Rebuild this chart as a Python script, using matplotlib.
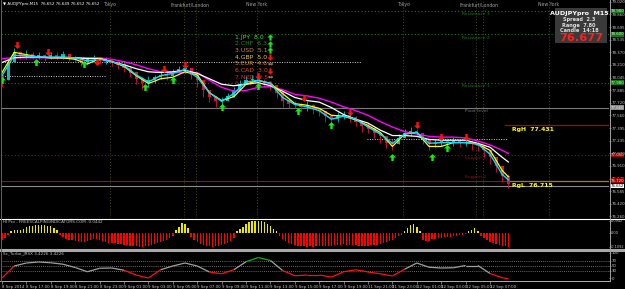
import numpy as np
import matplotlib
matplotlib.use("Agg")
import matplotlib.pyplot as plt
from matplotlib.path import Path
from matplotlib.patches import Rectangle
from matplotlib.collections import LineCollection

# ---------------- data ----------------
# candles, one every 2 bars (M15 bar index)
candle_x = np.arange(0, 167, 2)
first_open = 78.08
closes = [78.01, 78.24, 78.37, 78.33, 78.35, 78.31, 78.33, 78.30, 78.33, 78.31,
          78.34, 78.30, 78.29, 78.25, 78.28, 78.30, 78.26, 78.28, 78.24, 78.21,
          78.17, 78.11, 78.03, 77.97, 78.01, 78.05, 78.08, 78.07, 78.11, 78.15,
          78.16, 78.08, 78.01, 77.88, 77.80, 77.74, 77.75, 77.80, 77.88, 77.96,
          78.01, 78.02, 77.99, 77.98, 77.94, 77.85, 77.75, 77.71, 77.70, 77.67,
          77.69, 77.64, 77.61, 77.55, 77.51, 77.55, 77.56, 77.53, 77.48, 77.42,
          77.39, 77.33, 77.29, 77.21, 77.19, 77.27, 77.33, 77.35, 77.33, 77.25,
          77.19, 77.20, 77.23, 77.21, 77.23, 77.20, 77.21, 77.19, 77.16, 77.11,
          77.02, 76.91, 76.78, 76.68]
highs = [78.11, 78.29, 78.42, 78.39, 78.40, 78.37, 78.38, 78.35, 78.38, 78.37,
         78.39, 78.35, 78.33, 78.30, 78.31, 78.34, 78.31, 78.31, 78.29, 78.26,
         78.24, 78.19, 78.11, 78.05, 78.06, 78.08, 78.14, 78.14, 78.15, 78.20,
         78.21, 78.16, 78.07, 77.96, 77.88, 77.80, 77.80, 77.85, 77.93, 78.01,
         78.06, 78.08, 78.05, 78.03, 77.99, 77.93, 77.81, 77.76, 77.75, 77.72,
         77.74, 77.70, 77.66, 77.61, 77.57, 77.60, 77.61, 77.60, 77.55, 77.48,
         77.46, 77.39, 77.35, 77.29, 77.25, 77.32, 77.38, 77.41, 77.38, 77.32,
         77.25, 77.25, 77.28, 77.27, 77.28, 77.25, 77.27, 77.24, 77.23, 77.17,
         77.10, 77.00, 76.88, 76.80]
lows = [77.93, 78.03, 78.26, 78.29, 78.29, 78.28, 78.29, 78.26, 78.29, 78.28,
        78.29, 78.26, 78.24, 78.20, 78.22, 78.25, 78.22, 78.22, 78.19, 78.16,
        78.12, 78.05, 77.96, 77.90, 77.93, 77.97, 78.03, 78.02, 78.06, 78.10,
        78.11, 78.03, 77.93, 77.80, 77.73, 77.67, 77.69, 77.75, 77.81, 77.90,
        77.96, 77.97, 77.94, 77.93, 77.88, 77.78, 77.67, 77.65, 77.65, 77.62,
        77.62, 77.58, 77.55, 77.48, 77.44, 77.48, 77.51, 77.47, 77.42, 77.35,
        77.33, 77.27, 77.21, 77.14, 77.11, 77.19, 77.27, 77.30, 77.28, 77.19,
        77.12, 77.15, 77.17, 77.16, 77.17, 77.15, 77.16, 77.12, 77.10, 77.03,
        76.94, 76.83, 76.70, 76.63]

# moving averages sampled every 4 bars
ma_x = list(range(0, 165, 4)) + [166]
ma_cyan = [78.07, 78.33, 78.33, 78.31, 78.31, 78.31, 78.30, 78.26, 78.28, 78.25,
           78.20, 78.08, 77.99, 78.07, 78.10, 78.15, 78.05, 77.85, 77.74, 77.84,
           77.99, 78.01, 77.97, 77.79, 77.70, 77.67, 77.62, 77.51, 77.55, 77.51,
           77.41, 77.32, 77.20, 77.32, 77.34, 77.20, 77.21, 77.21, 77.21, 77.19,
           77.06, 76.80, 76.73]
ma_yellow = [78.11, 78.37, 78.34, 78.31, 78.30, 78.30, 78.28, 78.22, 78.29, 78.25,
             78.19, 78.07, 77.97, 78.03, 78.05, 78.12, 78.08, 77.85, 77.75, 77.80,
             77.96, 78.01, 77.97, 77.84, 77.71, 77.69, 77.65, 77.56, 77.55, 77.50,
             77.43, 77.34, 77.16, 77.32, 77.34, 77.16, 77.16, 77.21, 77.21, 77.19,
             77.11, 76.85, 76.77]
ma_white = [78.24, 78.30, 78.31, 78.31, 78.30, 78.30, 78.30, 78.29, 78.29, 78.25,
            78.21, 78.16, 78.12, 78.11, 78.12, 78.14, 78.10, 78.03, 77.96, 77.94,
            77.96, 77.98, 77.94, 77.87, 77.79, 77.75, 77.73, 77.66, 77.57, 77.51,
            77.46, 77.37, 77.30, 77.30, 77.29, 77.25, 77.24, 77.24, 77.24, 77.20,
            77.15, 77.02, 76.96]
ma_magenta = [78.29, 78.30, 78.30, 78.30, 78.30, 78.30, 78.30, 78.30, 78.30, 78.28,
              78.25, 78.21, 78.16, 78.12, 78.11, 78.11, 78.11, 78.01, 77.92, 77.87,
              77.88, 77.92, 77.93, 77.89, 77.83, 77.81, 77.78, 77.73, 77.67, 77.62,
              77.56, 77.48, 77.41, 77.35, 77.32, 77.29, 77.28, 77.28, 77.27, 77.23,
              77.18, 77.11, 77.07]

# signal arrows
buy_x = [0, 11, 27, 47, 56, 72, 84, 97, 108, 128, 141, 146]
buy_y = [78.01, 78.24, 78.22, 77.92, 78.01, 77.67, 77.94, 77.62, 77.43, 77.02, 77.03, 77.14]
sell_x = [5, 15, 31, 53, 60, 84, 99, 114, 136, 144, 152]
sell_y = [78.46, 78.38, 78.24, 78.16, 78.21, 78.07, 77.78, 77.60, 77.43, 77.28, 77.28]

# pivot levels
level_names = ["Resistance 3", "Resistance 2", "Resistance 1", "Pivot level", "Support 1", "Support 2"]
level_prices = [78.90, 78.60, 77.98, 77.66, 77.05, 76.72]
rg_high = 77.431
rg_low = 76.715
bid = 76.652
ask = 76.677

# dotted day-range lines: price, start bar, end bar
dot_prices = [78.24, 78.07, 77.25]
dot_start = [0, 0, 119.7]
dot_end = [117.7, 33.8, 165.6]

# sessions
session_lines = [35.4, 59.7, 63.6, 83.6, 131.5, 155.4, 157.7, 179.3]
session_names = ["Tokyo", "Frankfurt/London", "New York", "Tokyo", "Frankfurt/London", "New York"]
session_pos = [35.4, 61.6, 83.6, 131.5, 156.5, 179.3]

# currency strength list
strength_labels = ["1.JPY  8.0", "2.CHF  6.3", "3.USD  5.1", "4.GBP  5.0",
                   "5.EUR  4.6", "6.CAD  3.0", "7.NZD  2.5", "8.AUD  1.1"]
strength_dirs = ["up", "up", "up", "down", "flat", "down", "flat", "down"]

# histogram indicator, one value per bar
hist_vals = [-0.055, -0.039, -0.016, 0.016, 0.023, 0.023, 0.023, 0.031, 0.047, 0.055,
             0.055, 0.062, 0.062, 0.062, 0.062, 0.055, 0.055, 0.039, 0.023, -0.016,
             -0.031, -0.047, -0.055, -0.055, -0.062, -0.062, -0.070, -0.070, -0.062, -0.055,
             -0.047, -0.047, -0.055, -0.062, -0.070, -0.078, -0.078, -0.078, -0.086, -0.086,
             -0.094, -0.094, -0.101, -0.101, -0.101, -0.109, -0.109, -0.101, -0.101, -0.094,
             -0.086, -0.078, -0.070, -0.062, -0.055, -0.039, -0.023, 0.023, 0.047, 0.078,
             0.070, 0.039, -0.031, -0.055, -0.070, -0.086, -0.094, -0.101, -0.101, -0.109,
             -0.101, -0.101, -0.094, -0.086, -0.078, -0.062, -0.039, 0.016, 0.031, 0.047,
             0.070, 0.086, 0.094, 0.094, 0.094, 0.094, 0.086, 0.070, 0.055, 0.031,
             0.016, -0.023, -0.047, -0.062, -0.078, -0.086, -0.094, -0.101, -0.101, -0.101,
             -0.109, -0.101, -0.109, -0.101, -0.101, -0.101, -0.101, -0.101, -0.101, -0.094,
             -0.094, -0.094, -0.086, -0.094, -0.094, -0.094, -0.094, -0.101, -0.101, -0.101,
             -0.101, -0.094, -0.094, -0.094, -0.086, -0.078, -0.070, -0.062, -0.055, -0.039,
             -0.023, -0.016, 0.016, 0.039, 0.062, 0.070, 0.047, 0.016, -0.055, -0.062,
             -0.062, -0.047, -0.047, -0.039, -0.039, -0.031, -0.031, -0.031, -0.023, -0.023,
             -0.016, -0.016, -0.008, 0.016, 0.023, 0.039, 0.016, -0.023, -0.039, -0.055,
             -0.070, -0.078, -0.086, -0.094, -0.101, -0.101, -0.109]

# oscillator, sampled every 4 bars
osc_vals = [0, 48, 60, 64, 61, 55, 42, 25, 39, 40,
            31, 12, 0, 33, 48, 60, 48, 24, 17, 33,
            65, 82, 70, 30, 9, 12, 12, 4, 25, 33,
            24, 17, 8, 35, 60, 43, 40, 41, 50, 50,
            18, 1, -3]

# axis labels
price_ticks = [76.260, 76.420, 76.585, 76.745, 76.910, 77.070, 77.235, 77.395, 77.560,
               77.720, 77.885, 78.045, 78.210, 78.370, 78.535, 78.695, 78.860, 79.020]
hist_ticks = [0.0942, 0.0, -0.1092]
hist_tick_labels = ["0.0942", "0.00", "-0.1092"]
osc_ticks = [100, 70, 50, 30, 0]
time_ticks = list(range(0, 161, 8))
time_labels = ["8 Sep 2014", "8 Sep 17:00", "8 Sep 19:00", "8 Sep 21:00", "8 Sep 23:00",
               "9 Sep 01:00", "9 Sep 03:00", "9 Sep 05:00", "9 Sep 07:00", "9 Sep 09:00",
               "9 Sep 11:00", "9 Sep 13:00", "9 Sep 15:00", "9 Sep 17:00", "9 Sep 19:00",
               "11 Sep 21:00", "11 Sep 23:00", "12 Sep 01:00", "12 Sep 03:00",
               "12 Sep 05:00", "12 Sep 07:00"]

# ---------------- drawing ----------------
plt.rcParams['font.family'] = ['DejaVu Sans']
W, H = 625, 289
fig = plt.figure(figsize=(W / 100, H / 100), dpi=100, facecolor='black')

def px_axes(top, bottom):
    return fig.add_axes([1 / W, 1 - bottom / H, 608 / W, (bottom - top) / H])

ax = px_axes(1, 218)
axh = px_axes(219, 248)
axo = px_axes(251.5, 281)

lab_color = '#c8c8c8'
axis_fs = 2.8
for a in (ax, axh, axo):
    a.set_facecolor('black')
    a.set_xlim(-0.33, 199.0)
    for s in a.spines.values():
        s.set_visible(False)
    a.yaxis.tick_right()
    a.tick_params(axis='y', labelsize=axis_fs, labelcolor=lab_color, color='#a0a0a0',
                  length=1.2, width=0.5, pad=0.6)
    a.tick_params(axis='x', length=0)
    a.set_xticks([])

# ---- main price panel ----
ax.set_ylim(76.24, 79.03)
ax.set_yticks(price_ticks, [f"{v:.3f}" for v in price_ticks])

for x in session_lines:
    ax.axvline(x, color='#4c4c12', lw=0.7, ls=(0, (1, 2)), zorder=1)
for name, x in zip(session_names, session_pos):
    ax.text(x, 0.982, name, transform=ax.get_xaxis_transform(), ha='center', va='center',
            fontsize=3.3, color='#a0a0a0')

lvl_colors = ['#1e7a1e', '#1e7a1e', '#1e7a1e', '#7a7a7a', '#9a1010', '#9a1010']
lvl_styles = [(0, (1, 2)), (0, (1, 2)), (0, (1, 2)), '-', (0, (1, 2)), '-']
lvl_box = ['#0d7a0d', '#0d7a0d', '#0d7a0d', '#8a8a8a', '#a00000', '#a00000']
for name, p, c, s, b in zip(level_names, level_prices, lvl_colors, lvl_styles, lvl_box):
    ax.axhline(p, color=c, lw=0.8, ls=s, zorder=1)
    off = 1.2 if name == "Support 2" else -1.0
    ax.annotate(name, (155.4, p), xytext=(0, off), textcoords='offset points',
                ha='center', va='bottom' if off > 0 else 'top', fontsize=3.2, color=c)
    ax.text(1.002, p, f"{p:.3f}", transform=ax.get_yaxis_transform(), ha='left', va='center',
            fontsize=axis_fs, color='#e8e8e8', clip_on=False,
            bbox=dict(boxstyle='square,pad=0.1', fc=b, ec='none'), zorder=8)

for p, x0, x1 in zip(dot_prices, dot_start, dot_end):
    ax.plot([x0, x1], [p, p], color='#d0d0d0', lw=0.7, ls=(0, (1, 1.5)), zorder=1)

ax.axhline(bid, color='#8c8c8c', lw=0.8, zorder=1)
ax.text(1.002, bid, f"{bid:.3f}", transform=ax.get_yaxis_transform(), ha='left', va='center',
        fontsize=axis_fs, color='black', clip_on=False,
        bbox=dict(boxstyle='square,pad=0.1', fc='white', ec='none'), zorder=9)

# RgH / RgL
ax.plot([165, 199], [rg_high, rg_high], color='#c00000', lw=0.9, zorder=2)
ax.plot([165.6, 199], [rg_low, rg_low], color='#8a8a10', lw=0.9, zorder=2)
ax.annotate(f"RgH  {rg_high:.3f}", (167.2, rg_high), xytext=(0, -1.2), textcoords='offset points',
            ha='left', va='top', fontsize=4.4, color='#ffff00', fontweight='bold')
ax.annotate(f"RgL  {rg_low:.3f}", (167.2, rg_low), xytext=(0, -1.2), textcoords='offset points',
            ha='left', va='top', fontsize=4.4, color='#ffff00', fontweight='bold')

# currency strength list (behind price)
str_colors = ['#3cdc3c', '#2a8a2a', '#c8885a', '#e6c832', '#e88a1a', '#e8501e', '#f02020', '#b01010']
arrow_up = Path([(0, 1), (-1, 0), (-0.35, 0), (-0.35, -1), (0.35, -1), (0.35, 0), (1, 0), (0, 1)], closed=True)
arrow_dn = Path([(0, -1), (-1, 0), (-0.35, 0), (-0.35, 1), (0.35, 1), (0.35, 0), (1, 0), (0, -1)], closed=True)
for k, (lab, d, c) in enumerate(zip(strength_labels, strength_dirs, str_colors)):
    yf = 1 - (37 + 6.7 * k - 1) / 217
    ax.text(0.385, yf, lab, transform=ax.transAxes, ha='left', va='center', fontsize=4.4,
            color=c, zorder=1.5)
    if d == 'flat':
        ax.text(0.443, yf, "\u21d4", transform=ax.transAxes, ha='center', va='center',
                fontsize=4.4, color='#d2c08c', zorder=1.5)
    else:
        ax.plot([0.443], [yf], transform=ax.transAxes, ls='none',
                marker=arrow_up if d == 'up' else arrow_dn, ms=4.5, mew=0,
                color='#20e020' if d == 'up' else '#ff1010', zorder=1.5)

# candles
closes_a = np.array(closes)
opens_a = np.r_[first_open, closes_a[:-1]]
cols = np.where(closes_a >= opens_a, '#18b4b4', '#e0103c')
ax.vlines(candle_x, np.minimum(lows, np.minimum(opens_a, closes_a)),
          np.maximum(highs, np.maximum(opens_a, closes_a)), colors=cols, lw=0.6, zorder=3)
ax.bar(candle_x, np.abs(closes_a - opens_a) + 0.004, bottom=np.minimum(opens_a, closes_a),
       width=1.0, color=cols, zorder=3)

# moving averages
ax.plot(ma_x, ma_magenta, color='#ff00ff', lw=1.0, zorder=4)
ax.plot(ma_x, ma_white, color='#ffffff', lw=0.9, zorder=4)
ax.plot(ma_x, ma_yellow, color='#ffff00', lw=0.9, zorder=5)
ax.plot(ma_x, ma_cyan, color='#00e5ff', lw=1.0, zorder=5)

# signals
ax.plot(buy_x, buy_y, ls='none', marker=arrow_up, ms=5, mew=0, color='#10f010', zorder=6)
ax.plot(sell_x, sell_y, ls='none', marker=arrow_dn, ms=5, mew=0, color='#ff1010', zorder=6)

# title
ax.text(0.004, 0.986, "\u25bc AUDJPYpro,M15  76.652 76.649 76.652 76.652", transform=ax.transAxes,
        ha='left', va='center', fontsize=2.9, color='white')

# info box
ax.add_patch(Rectangle((554 / 608, 1 - 42 / 217), 52 / 608, 35 / 217, transform=ax.transAxes,
                       fc='#3a3a3a', ec='none', zorder=7))
ax.text(578 / 608, 1 - 12 / 217, "AUDJPYpro  M15", transform=ax.transAxes, ha='center', va='center',
        fontsize=4.6, color='white', fontweight='bold', zorder=8)
for k, t in enumerate(["Spread  2.3", "Range  7.80", "Candle  14:18"]):
    ax.text(578 / 608, 1 - (18.5 + 5.5 * k) / 217, t, transform=ax.transAxes, ha='center',
            va='center', fontsize=3.6, color='#e0e0e0', fontweight='bold', zorder=8)
ax.text(580 / 608, 1 - 37 / 217, f"{ask:.3f}", transform=ax.transAxes, ha='center', va='center',
        fontsize=8.2, color='#ff2020', fontweight='bold', zorder=8)

# ---- histogram panel ----
axh.set_ylim(-0.117, 0.109)
axh.set_yticks(hist_ticks, hist_tick_labels)
axh.tick_params(axis='y', labelsize=2.5, pad=0.4)
hv = np.array(hist_vals)
axh.bar(np.arange(len(hv)), hv, width=0.45, color=np.where(hv > 0, '#e8e800', '#ff0000'))
axh.text(0.004, 0.88, "HI Pro - FREESCALPINGINDICATORS.COM -0.0442", transform=axh.transAxes,
         ha='left', va='center', fontsize=3.0, color='#c0c0c0')

# ---- oscillator panel ----
axo.set_ylim(-12, 106)
axo.set_yticks(osc_ticks, [str(v) for v in osc_ticks])
for lv in (70, 50, 30):
    axo.axhline(lv, color='#8a8a8a', lw=0.6, ls=(0, (1, 1.5)))
pts = np.column_stack([ma_x, osc_vals])
segs = np.stack([pts[:-1], pts[1:]], axis=1)
mids = (np.array(osc_vals[:-1]) + np.array(osc_vals[1:])) / 2
seg_cols = ['#ff1010' if m < 30 else ('#10b010' if m > 70 else '#a0a0a0') for m in mids]
axo.add_collection(LineCollection(segs, colors=seg_cols, linewidths=0.9))
axo.text(0.004, 0.9, "Sc_Turbo_JRSX 3.4226 3.4226", transform=axo.transAxes,
         ha='left', va='center', fontsize=3.0, color='#c0c0c0')
axo.set_xticks(time_ticks, time_labels)
axo.tick_params(axis='x', length=2, width=0.5, color='#a0a0a0', labelsize=2.8,
                labelcolor=lab_color, pad=1)
plt.setp(axo.get_xticklabels(), ha='left')

# ---- frame lines ----
def fig_hline(ypx, x1px, color, lw):
    fig.add_artist(plt.Line2D([0, x1px / W], [1 - ypx / H, 1 - ypx / H], transform=fig.transFigure,
                              color=color, lw=lw))

fig_hline(218.5, W, 'white', 0.8)
fig_hline(249.8, W, '#a8a8a8', 2.2)
fig_hline(281.3, 609, '#b0b0b0', 0.7)
fig.add_artist(plt.Line2D([609.5 / W, 609.5 / W], [1 - 281.3 / H, 1], transform=fig.transFigure,
                          color='#a0a0a0', lw=0.7))
fig.add_artist(plt.Line2D([1.5 / W, 1.5 / W], [1 - 281.3 / H, 1], transform=fig.transFigure,
                          color='#606060', lw=0.7))

fig.savefig("out.png", dpi=100, facecolor='black')
